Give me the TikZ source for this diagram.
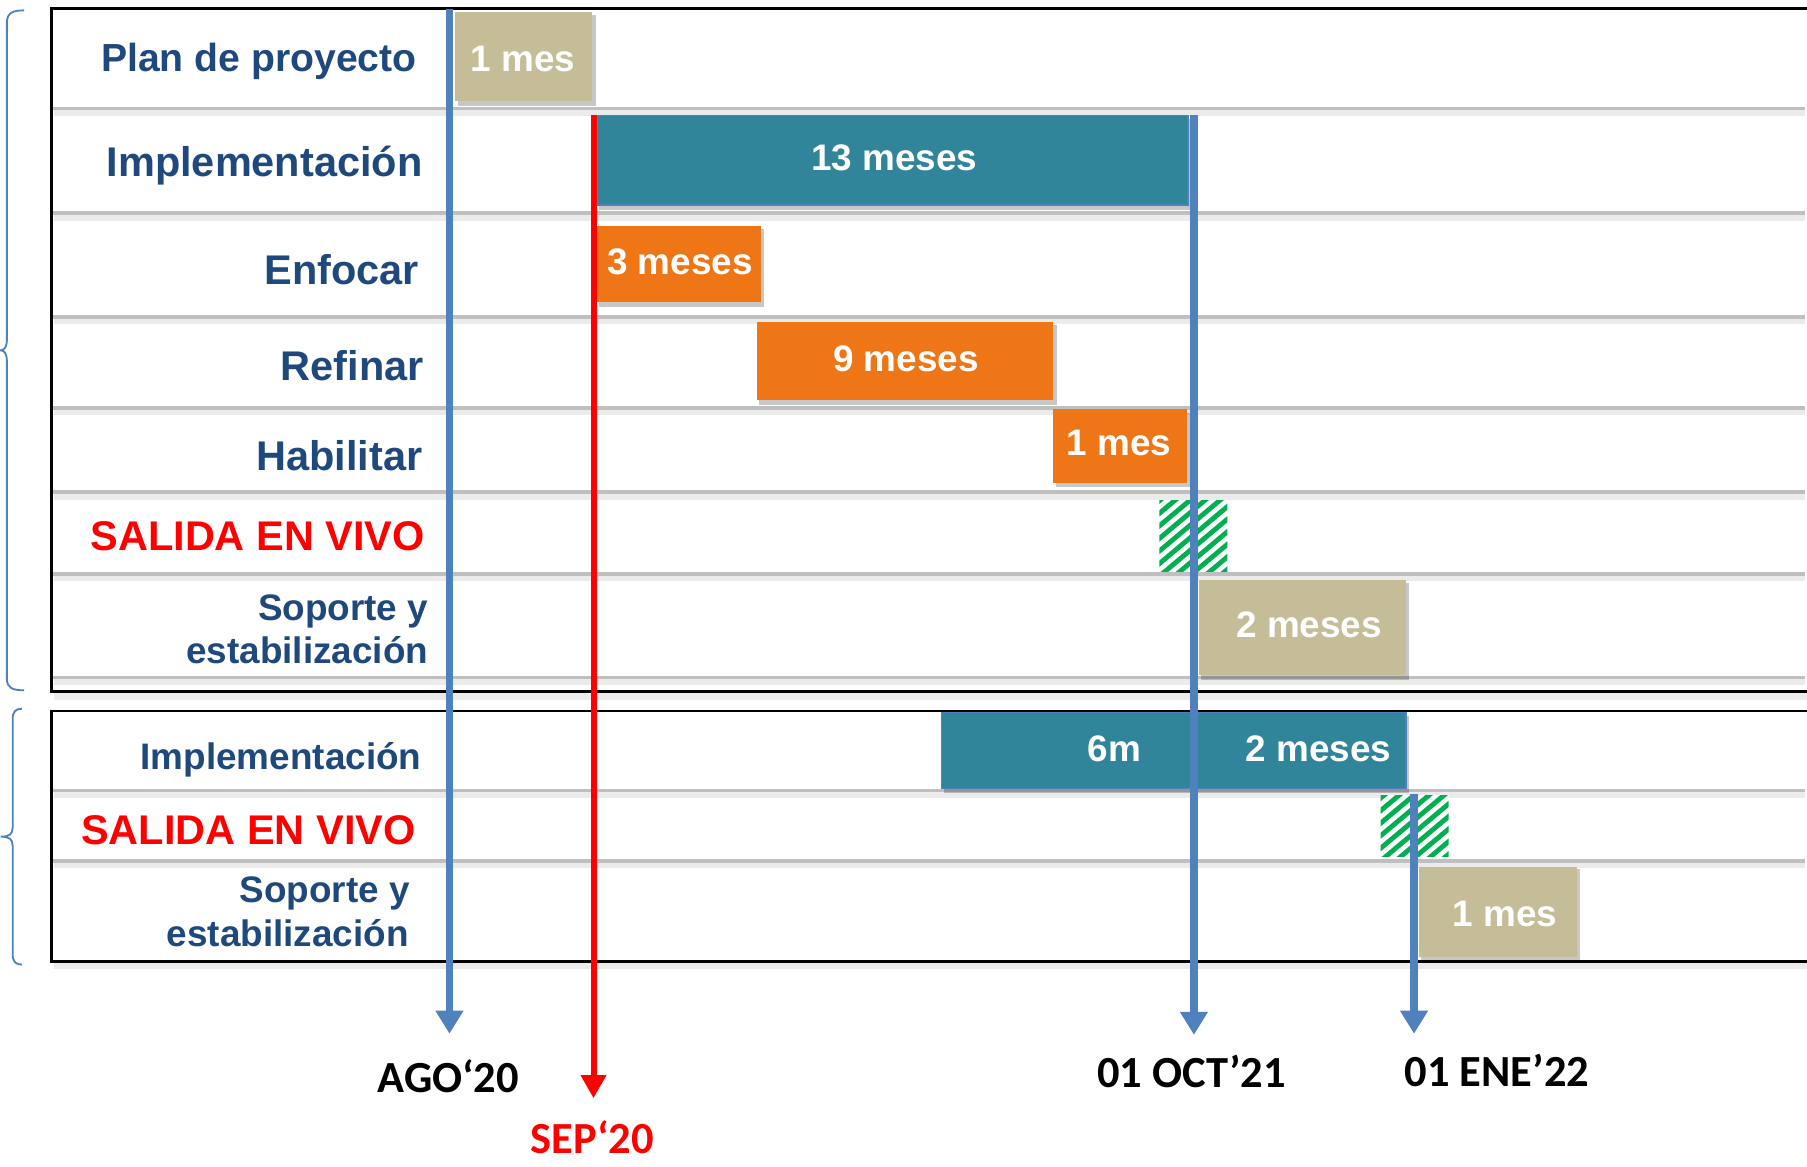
\documentclass[tikz,border=0pt]{standalone}
\usepackage{fontspec}
\setmainfont{Liberation Sans}
\newfontfamily\datefont{Carlito}
\usetikzlibrary{arrows.meta}
\definecolor{lblue}{RGB}{31,73,125}
\definecolor{tanc}{RGB}{196,189,151}
\definecolor{tealc}{RGB}{49,133,155}
\definecolor{orangec}{RGB}{238,118,22}
\definecolor{arrowblue}{RGB}{79,129,189}
\definecolor{hatchgreen}{RGB}{0,176,80}
\definecolor{rowgray}{RGB}{191,191,191}
\definecolor{redc}{RGB}{255,0,0}
\tikzset{
  lbl/.style={font=\fontsize{18pt}{20pt}\selectfont\bfseries, text=lblue, anchor=base east, inner sep=0pt},
  lblplan/.style={lbl, font=\fontsize{17pt}{19pt}\selectfont\bfseries},
  lblsmall/.style={lbl, font=\fontsize{16pt}{18pt}\selectfont\bfseries},
  lblred/.style={lbl, text=redc},
  barlbl/.style={font=\fontsize{16pt}{18pt}\selectfont\bfseries, text=white, inner sep=0pt},
  datelbl/.style={font=\fontsize{19.3pt}{21pt}\selectfont\datefont\bfseries, anchor=base, inner sep=0pt},
  blueArrow/.style={draw=arrowblue, line width=3.3pt, -{Triangle[width=11.5pt,length=10pt]}, arrowblue},
  redArrow/.style={draw=redc, line width=2.6pt, -{Triangle[width=10.5pt,length=10pt]}, redc},
  rowline/.style={draw=rowgray, line width=1.5pt},
  rowshadow/.style={draw=black, opacity=0.08, line width=2.5pt},
  barshadow/.style={fill=black, opacity=0.22},
  brace/.style={draw=arrowblue, line width=0.8pt},
  hatchline/.style={draw=hatchgreen, line width=2.1pt},
}
\begin{document}
\begin{tikzpicture}[x=0.5pt,y=-0.5pt]
\useasboundingbox (0,0) rectangle (1568,1012);
\fill[white] (0,0) rectangle (1568,1012);

% braces
\draw[brace] (21,9) .. controls (11,9) and (6,11) .. (6,20) -- (6,294) .. controls (6,301) and (4,304) .. (0.5,304) .. controls (4,304) and (6,307) .. (6,314) -- (6,589) .. controls (6,597) and (11,599) .. (21,599);
\draw[brace] (19,615) .. controls (14,615) and (11,617) .. (11,624) -- (11,718) .. controls (11,724) and (8,726) .. (0.5,726) .. controls (8,726) and (11,728) .. (11,734) -- (11,828) .. controls (11,835) and (14,837) .. (19,837);

% box shadows
\draw[rowshadow, line width=3pt] (47,604) -- (1568,604);
\draw[rowshadow, line width=3pt] (47,838) -- (1568,838);

% row lines
\foreach \yy in {94,185,275,354,427,498,588,686,747}{
  \draw[rowshadow] (47,\yy+4) -- (1566,\yy+4);
  \draw[rowline] (46,\yy) -- (1566,\yy);
}

% boxes
\draw[line width=1.25pt] (45,7) rectangle (1590,600);
\draw[line width=1.25pt] (45,617) rectangle (1590,834);

% bar shadows
\fill[barshadow] (397,13) rectangle (517,92);
\fill[barshadow] (520,103) rectangle (1034,182);
\fill[barshadow] (520,199) rectangle (663,266);
\fill[barshadow] (659,282) rectangle (917,351);
\fill[barshadow] (916,358) rectangle (1033,423);
\fill[barshadow] (1042,506) rectangle (1223,590);
\fill[barshadow] (819,621) rectangle (1223,688);
\fill[barshadow] (1233,754) rectangle (1371,834);

% bars
\fill[tanc] (395,10) rectangle (514,88);
\filldraw[fill=tealc, draw=arrowblue, line width=0.6pt] (518,100) rectangle (1031,178);
\fill[orangec] (518,196) rectangle (660,262);
\fill[orangec] (657,279) rectangle (914,347);
\fill[orangec] (914,355) rectangle (1030,419);
\fill[tanc] (1040,503) rectangle (1220,586);
\filldraw[fill=tealc, draw=arrowblue, line width=0.6pt] (817,618) rectangle (1220,684);
\fill[tanc] (1231,752) rectangle (1368,830);

% hatched go-live boxes
\begin{scope}
  \clip (1006,434) rectangle (1065,496);
  \fill[white] (1006,434) rectangle (1065,496);
  \foreach \k in {-91,-78,...,66}{
    \draw[hatchline] (1006+\k,500) -- ++(90,-75.5);
  }
\end{scope}
\begin{scope}
  \clip (1198,690) rectangle (1257,743);
  \fill[white] (1198,690) rectangle (1257,743);
  \foreach \k in {-78,-65,...,66}{
    \draw[hatchline] (1198+\k,747) -- ++(80,-67);
  }
\end{scope}

% bar labels
\node[barlbl] (b1) at (454,51) {1 mes};
\node[barlbl] (b2) at (776,137) {13 meses};
\node[barlbl] (b3) at (590,227) {3 meses};
\node[barlbl] (b4) at (786,311) {9 meses};
\node[barlbl] (b5) at (971,384) {1 mes};
\node[barlbl] (b6) at (1136,542) {2 meses};
\node[barlbl] (b7) at (967,650) {6m};
\node[barlbl] (b8) at (1144,650) {2 meses};
\node[barlbl] (b9) at (1306,793) {1 mes};

% row labels
\node[lblplan] (l1) at (362,62) {Plan de proyecto};
\node[lbl] (l2) at (367,153) {Implementación};
\node[lbl] (l3) at (364,247) {Enfocar};
\node[lbl] (l4) at (368,330) {Refinar};
\node[lbl] (l5) at (367,408) {Habilitar};
\node[lblred] (l6) at (369,478) {SALIDA EN VIVO};
\node[lblsmall] (l7) at (372,538) {Soporte y};
\node[lblsmall] (l8) at (372,576) {estabilización};
\node[lblsmall] (l9) at (366,668) {Implementación};
\node[lblred] (l10) at (361,733) {SALIDA EN VIVO};
\node[lblsmall] (l11) at (356,783) {Soporte y};
\node[lblsmall] (l12) at (355,821) {estabilización};

% milestone arrows
\coordinate (agoTop) at (390,8);
\coordinate (agoEnd) at (390,897);
\coordinate (sepTop) at (515,100);
\coordinate (sepEnd) at (515,953);
\coordinate (octTop) at (1036,100);
\coordinate (octEnd) at (1036,898);
\coordinate (eneTop) at (1227,689);
\coordinate (eneEnd) at (1227,897);
\draw[blueArrow] (agoTop) -- (agoEnd);
\draw[redArrow] (sepTop) -- (sepEnd);
\draw[blueArrow] (octTop) -- (octEnd);
\draw[blueArrow] (eneTop) -- (eneEnd);

% dates
\node[datelbl] (ago) at (389,948) {AGO‘20};
\node[datelbl, text=redc] (sep) at (514,1001) {SEP‘20};
\node[datelbl] (oct) at (1034,944) {01 OCT’21};
\node[datelbl] (ene) at (1299,943) {01 ENE’22};
\end{tikzpicture}
\end{document}
